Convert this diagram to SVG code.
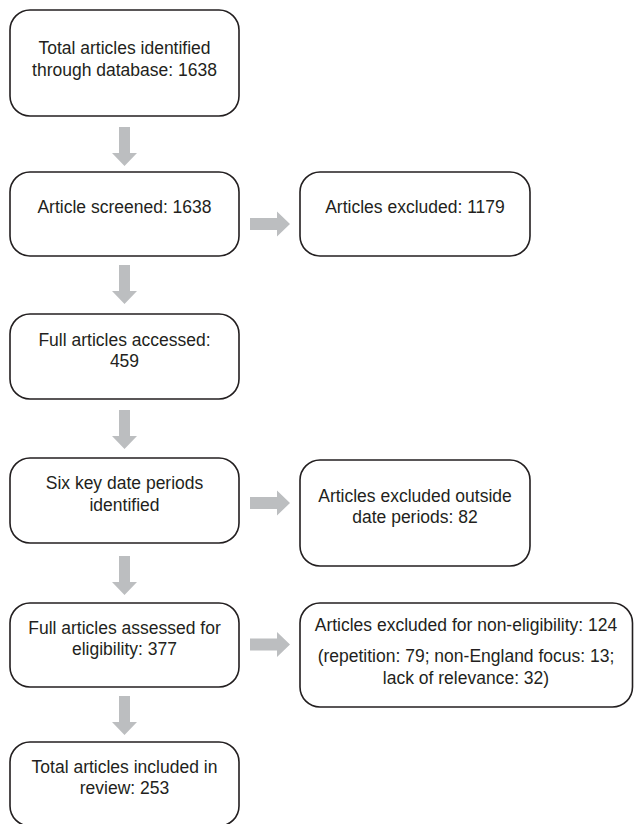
<svg xmlns="http://www.w3.org/2000/svg" width="634" height="824" viewBox="0 0 634 824">
<style>
.box{fill:#fff;stroke:#231f20;stroke-width:1.6}
.t{font-family:"Liberation Sans",Arial,sans-serif;font-size:17.5px;fill:#231f20;text-anchor:middle}
.arr{fill:#bcbec0;stroke:none}
</style>
<defs>
<path id="down" d="M-5.5,0 H5.5 V26 H12.5 L0,39 L-12.5,26 H-5.5 Z"/>
<path id="right" d="M0,-6 H27 V-12.5 L40,0 L27,12.5 V6 H0 Z"/>
</defs>
<rect width="634" height="824" fill="#fff"/>
<g id="connectors">
<use href="#down" class="arr" x="124.5" y="127"/>
<use href="#down" class="arr" x="124.5" y="265"/>
<use href="#down" class="arr" x="124.5" y="410"/>
<use href="#down" class="arr" x="124.5" y="556"/>
<use href="#down" class="arr" x="124.5" y="696"/>
<use href="#right" class="arr" x="250" y="224"/>
<use href="#right" class="arr" x="250" y="503"/>
<use href="#right" class="arr" x="250" y="644.5"/>
</g>
<g id="n1"><rect class="box" x="10" y="10" width="229" height="106" rx="20"/>
<text class="t" x="124.5" y="54">Total articles identified</text>
<text class="t" x="124.5" y="76">through database: 1638</text></g>
<g id="n2"><rect class="box" x="10" y="172" width="229" height="84" rx="20"/>
<text class="t" x="124.5" y="213">Article screened: 1638</text></g>
<g id="n3"><rect class="box" x="300" y="172" width="230" height="84" rx="20"/>
<text class="t" x="415" y="213">Articles excluded: 1179</text></g>
<g id="n4"><rect class="box" x="10" y="314" width="229" height="85" rx="20"/>
<text class="t" x="124.5" y="346">Full articles accessed:</text>
<text class="t" x="124.5" y="367">459</text></g>
<g id="n5"><rect class="box" x="10" y="458" width="229" height="85" rx="20"/>
<text class="t" x="124.5" y="489">Six key date periods</text>
<text class="t" x="124.5" y="511">identified</text></g>
<g id="n6"><rect class="box" x="300" y="460" width="230" height="106" rx="20"/>
<text class="t" x="415" y="502">Articles excluded outside</text>
<text class="t" x="415" y="523">date periods: 82</text></g>
<g id="n7"><rect class="box" x="10" y="603" width="229" height="84" rx="20"/>
<text class="t" x="124.5" y="634">Full articles assessed for</text>
<text class="t" x="124.5" y="655">eligibility: 377</text></g>
<g id="n8"><rect class="box" x="300" y="603" width="332.5" height="104" rx="20"/>
<text class="t" x="466" y="631">Articles excluded for non-eligibility: 124</text>
<text class="t" x="466" y="662">(repetition: 79; non-England focus: 13;</text>
<text class="t" x="466" y="684">lack of relevance: 32)</text></g>
<g id="n9"><rect class="box" x="10" y="742" width="229" height="84" rx="20"/>
<text class="t" x="124.5" y="773">Total articles included in</text>
<text class="t" x="124.5" y="794">review: 253</text></g>
</svg>
